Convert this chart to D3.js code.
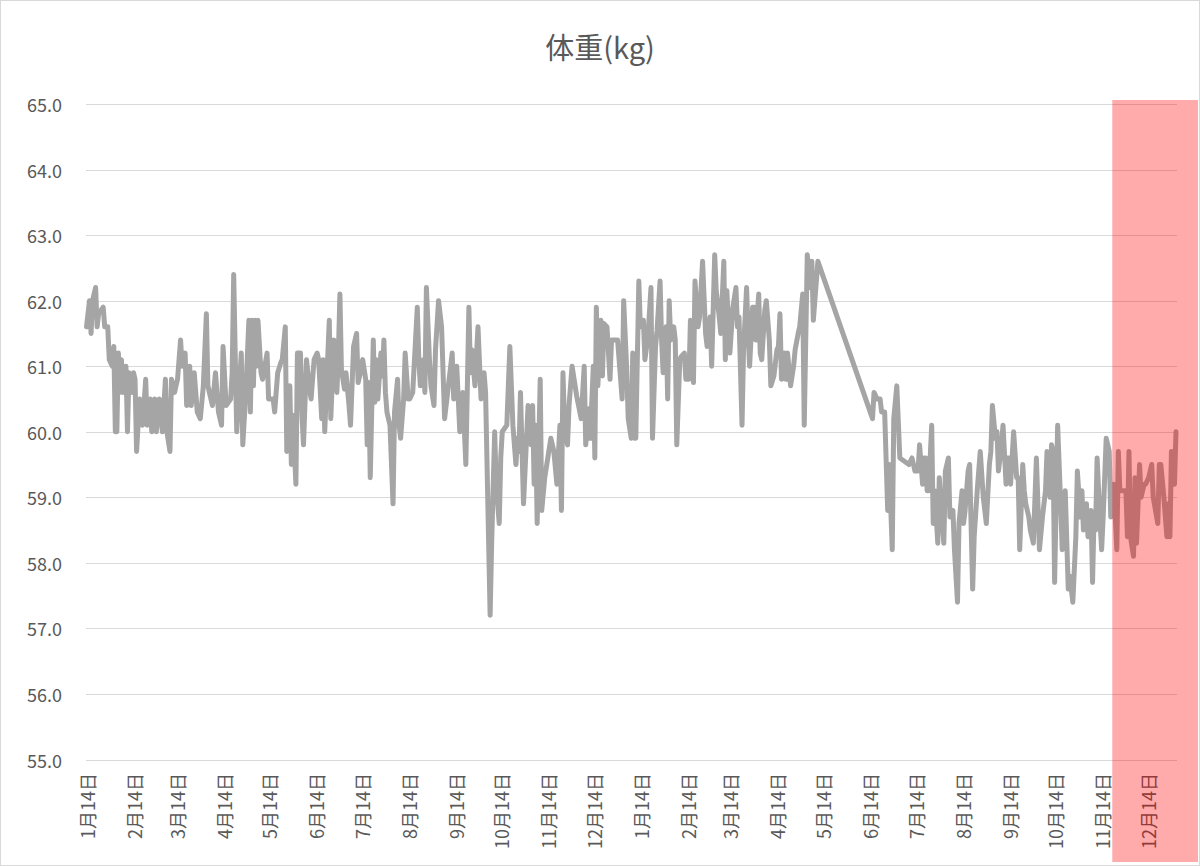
<!DOCTYPE html>
<html>
<head>
<meta charset="utf-8">
<script src="https://cdn.jsdelivr.net/npm/d3@7"></script>
<style>
  html, body { margin: 0; padding: 0; background: #fff; }
  svg { display: block; font-family: "Noto Sans CJK JP", "Noto Sans", sans-serif; }
</style>
</head>
<body>
<svg id="chart" width="1200" height="866"></svg>
<script>
// ---- data ----
const chartTitle = "体重(kg)";
const startDate = new Date(2017, 0, 13);   // first measurement
const endDate = new Date(2019, 0, 1);      // last measurement
const highlightStart = new Date(2018, 10, 20);
const yTicks = [55, 56, 57, 58, 59, 60, 61, 62, 63, 64, 65];

// days since startDate for each measurement
const dayOffsets = [
  0,2,3,4,6,7,8,11,12,14, 15,17,18,19,20,21,22,23,24,26, 27,28,30,31,32,33,35,37,39,40,
  42,43,45,46,48,50,52,53,55,56, 58,60,62,63,65,66,68,69,71,73, 75,77,79,80,83,85,87,89,90,92,
  95,96,97,99,100,102,103,105,107,108, 109,110,111,112,113,115,116,119,120,123, 124,
  126,128,129,131,132,134,135,136,138,139, 141,142,143,145,147,148,150,152,153,155,
  156,157,159,160,161,163,164,165,166,167, 168,170,171,173,174,176,178,179,180,182,
  184,185,186,187,189,190,191,192,194,195, 196,197,198,200,202,203,205,206,207,209,
  210,212,213,215,218,219,220,222,223,224, 226,227,229,230,232,234,236,239,241,242,
  244,246,248,250,252,253,254,256,258,260, 262,263,
  266,267,269,270,272,273,274,277,279,281, 283,284,285,286,288,290,291,293,294,295,
  296,297,299,300,302,306,308,310,312,313, 314,315,317,318,320,323,326,328,329,331,
  332,334,335,336,337,339,340,341,343,345, 346,348,350,353,354,356,357,359,360,361,
  362,364,365,367,368,370,372,373,375,376, 378,379,380,382,383,384,385,387,388,389,
  391,392,394,395,397,398,
  400,401,403,404,406,408,409,411,412,414, 415,417,418,420,421,422,424,426,428,429,
  430,432,433,435,436,437,439,440,441,443, 444,445,447,448,450,451,453,455,456,457,
  458,460,461,462,464,466,467,469,470,472, 473,475,477,478,479,482,
  518,519,521,523,524,526,528,529,531,532, 534,536,542,544,546,548,549,551,552,553,
  554,555,557,558,559,561,562,563,564,565, 566,568,569,571,572,574,575,577,578,579,
  581,582,584,585,587,589,591,593,595,596, 597,599,600,601,603,604,606,607,608,609,
  611,613,614,615,617,618,619,621,622,624, 626,628,
  630,632,633,635,636,637,638,640,642,643, 645,647,648,650,652,653,655,656,657,659,
  660,662,663,664,665,666,668,669,670,672, 674,675,677,679,680,681,683,685,686,687,
  688,690,691,692,694,695,697,698,700,702, 703,706,707,708,710,712,713,714,715,717, 718
];

// body weight in kg, same order as dayOffsets
const weights = [
  61.6,62.0,61.5,62.0,62.2,61.6,61.8,61.9,61.6,61.6, 61.1,61.0,61.3,60.0,60.0,61.2,60.6,61.1,60.6,61.0,
  60.0,60.9,60.6,60.9,60.8,59.7,60.5,60.1,60.8,60.1, 60.5,60.0,60.5,60.0,60.5,60.0,60.8,60.0,59.7,60.8,
  60.6,60.8,61.4,61.0,61.2,60.4,61.0,60.4,60.9,60.3, 60.2,60.7,61.8,60.7,60.4,60.9,60.3,60.1,61.3,60.4,
  60.5,60.9,62.4,60.0,60.4,61.2,59.8,60.6,61.7,60.3, 61.7,60.7,61.7,61.0,61.7,60.9,60.8,61.2,60.5,60.5, 60.3,
  60.9,61.05,61.1,61.6,59.7,60.7,59.5,60.25,59.2,61.2, 61.2,60.25,59.8,61.1,60.65,60.5,61.1,61.2,61.1,60.2,
  61.1,60.0,61.15,61.7,60.2,61.4,61.05,60.6,61.2,62.1, 60.95,60.65,60.9,60.4,60.1,61.3,61.5,60.75,60.85,61.1,
  60.8,59.8,60.75,59.3,61.4,60.45,61.1,60.5,61.2,60.85, 61.4,60.6,60.3,60.1,58.9,60.3,60.8,60.1,59.9,60.5,
  61.2,60.5,60.5,60.6,61.9,61.1,60.7,61.1,60.6,62.2, 61.1,60.7,60.4,61.25,62.0,61.6,60.2,60.8,61.2,60.5,
  61.0,60.0,60.6,59.5,61.9,60.9,61.25,60.7,61.6,60.5, 60.9,60.6,
  57.2,58.3,60.0,59.2,58.6,59.6,60.0,60.1,61.3,60.1, 59.5,59.9,59.7,60.6,58.9,59.9,60.4,59.8,60.4,59.2,
  60.1,58.6,60.8,58.8,59.3,59.9,59.7,59.2,60.1,58.8, 60.9,60.1,59.8,60.4,61.0,60.55,60.2,61.0,59.8,60.35,
  59.9,61.0,59.6,61.9,60.7,61.7,60.85,61.65,61.6,60.8, 61.4,61.4,61.4,60.5,62.0,60.95,60.2,59.9,61.2,59.9,
  59.9,62.3,61.6,61.7,61.1,61.45,62.2,59.9,61.3,61.55, 62.3,61.4,60.9,61.6,60.5,62.0,61.4,61.6,61.4,59.8,
  61.1,61.15,61.2,60.8,60.8,61.7,
  60.75,62.3,61.6,61.75,62.6,61.5,61.3,61.75,61.0,62.7, 62.15,61.75,61.5,62.6,61.1,62.15,61.2,61.9,62.2,61.6,
  61.75,60.1,61.25,62.2,61.5,61.0,61.9,61.9,61.4,62.1, 61.2,61.1,61.85,62.0,61.4,60.7,60.85,61.25,61.3,61.8,
  60.8,61.2,60.8,61.2,60.7,61.0,61.25,61.5,61.6,62.1, 60.1,62.7,62.2,62.6,61.7,62.6,
  60.2,60.6,60.5,60.5,60.3,60.3,58.8,59.5,58.2,60.2, 60.7,59.6,59.5,59.6,59.4,59.4,59.8,59.2,59.6,59.6,
  59.1,59.1,60.1,58.6,59.1,58.3,59.3,58.9,58.6,58.3, 59.4,59.6,58.7,58.8,58.2,57.4,58.6,59.1,58.6,58.8,
  59.4,59.5,57.6,58.4,59.1,59.7,59.0,58.6,59.5,59.7, 60.4,59.9,60.0,59.4,59.8,60.1,59.2,59.6,59.6,59.2,
  60.0,59.3,59.3,58.2,59.5,59.1,58.9,58.7,58.5,58.3, 59.6,58.2,
  58.7,59.1,59.7,59.0,59.8,59.7,57.7,60.1,58.9,58.2, 59.1,57.6,57.8,57.4,58.4,59.4,58.7,59.1,58.5,58.9,
  58.4,58.8,57.7,58.7,58.5,59.6,58.6,58.2,58.7,59.9, 59.7,58.7,59.2,58.2,59.7,59.1,59.1,59.1,58.4,59.7,
  58.4,58.1,59.3,58.3,59.5,59.0,59.2,59.2,59.3,59.5, 59.0,58.6,59.5,59.5,59.0,58.4,58.9,58.4,59.7,59.2, 60.0
];

// ---- chart ----
const W = 1200, H = 866;
const svg = d3.select("#chart");
const textColor = "#595959";

svg.append("rect").attr("x", 0.5).attr("y", 0.5)
  .attr("width", W - 1).attr("height", H - 1)
  .attr("fill", "#fff").attr("stroke", "#d9d9d9");

const x = d3.scaleTime().domain([startDate, endDate]).range([86.5, 1176]);
const y = d3.scaleLinear().domain([55, 65]).range([759.5, 104]);

// gridlines
svg.append("g").selectAll("line").data(yTicks).join("line")
  .attr("x1", 86).attr("x2", 1177)
  .attr("y1", d => Math.round(y(d)) + 0.5).attr("y2", d => Math.round(y(d)) + 0.5)
  .attr("stroke", "#d9d9d9").attr("stroke-width", 1);

// y labels
svg.append("g").selectAll("text").data(yTicks).join("text")
  .attr("x", 62).attr("y", d => y(d))
  .attr("text-anchor", "end").attr("dominant-baseline", "central")
  .attr("fill", textColor).attr("font-size", 18)
  .text(d => d3.format(".1f")(d));

// x ticks: 14th of each month
const monthTicks = d3.timeMonth.range(new Date(2017, 0, 1), new Date(2019, 0, 1))
  .map(m => new Date(m.getFullYear(), m.getMonth(), 14));
const fmt = d => (d.getMonth() + 1) + "月" + d.getDate() + "日";
svg.append("g").selectAll("text").data(monthTicks).join("text")
  .attr("transform", d => `translate(${x(d) - 1},773) rotate(-90)`)
  .attr("text-anchor", "end").attr("dominant-baseline", "central")
  .attr("fill", textColor).attr("font-size", 18)
  .text(fmt);

// data line
const n = Math.min(dayOffsets.length, weights.length);
const data = d3.range(n).map(i => ({ date: d3.timeDay.offset(startDate, dayOffsets[i]), w: weights[i] }));
svg.append("path").datum(data)
  .attr("fill", "none").attr("stroke", "#a5a5a5").attr("stroke-width", 5)
  .attr("stroke-linejoin", "round").attr("stroke-linecap", "round")
  .attr("d", d3.line().x(d => x(d.date)).y(d => y(d.w)));

// highlight overlay
svg.append("rect")
  .attr("x", x(highlightStart)).attr("y", 100)
  .attr("width", 1198 - x(highlightStart)).attr("height", 762)
  .attr("fill", "#ff0000").attr("fill-opacity", 0.33);

// title
svg.append("text").attr("x", 600).attr("y", 46)
  .attr("text-anchor", "middle").attr("dominant-baseline", "central")
  .attr("fill", textColor).attr("font-size", 29)
  .text(chartTitle);
</script>
</body>
</html>
